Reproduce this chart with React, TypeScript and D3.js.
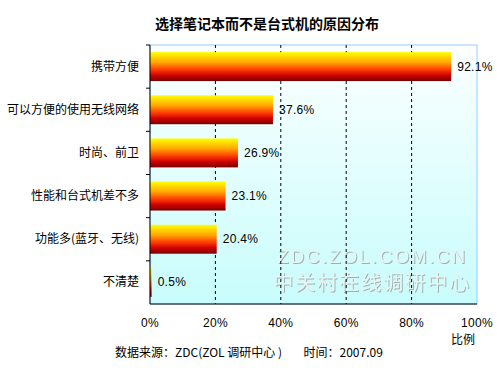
import * as d3 from 'd3';

// reasons for choosing a notebook over a desktop (share, %)
const categories = [
  '携带方便',
  '可以方便的使用无线网络',
  '时尚、前卫',
  '性能和台式机差不多',
  '功能多(蓝牙、无线)',
  '不清楚',
];
const shares = [92.1, 37.6, 26.9, 23.1, 20.4, 0.5];
const xTicks = [0, 20, 40, 60, 80, 100];

const cjk = "'Noto Sans CJK SC','DejaVu Sans',sans-serif";
const latin = "'Liberation Sans',Arial,sans-serif";

const W = 500, H = 375;
const margin = { top: 45, right: 23, bottom: 71, left: 150 };
const iW = W - margin.left - margin.right;
const iH = H - margin.top - margin.bottom;

export default function App() {
  const x = d3.scaleLinear().domain([0, 100]).range([0, iW]);
  const y = d3.scaleBand<string>().domain(categories).range([0, iH]).paddingInner(0.33).paddingOuter(0.165);
  const bounds = d3.scaleBand<string>().domain(categories).range([0, iH]);
  const wmX = x(68);

  return (
    <svg width={W} height={H} style={{ position: 'absolute', left: 0, top: 0, background: '#fff' }}>
      <defs>
        <linearGradient id="bg" x1="0" y1="0" x2="0" y2="1">
          <stop offset="0%" stopColor="#fcffff" />
          <stop offset="100%" stopColor="#c8fcfc" />
        </linearGradient>
        <linearGradient id="bar" x1="0" y1="0" x2="0" y2="1">
          <stop offset="0%" stopColor="#ffff00" />
          <stop offset="35%" stopColor="#ffa800" />
          <stop offset="60%" stopColor="#ff4000" />
          <stop offset="80%" stopColor="#d00000" />
          <stop offset="100%" stopColor="#780000" />
        </linearGradient>
        <filter id="emboss" x="-5%" y="-20%" width="110%" height="140%">
          <feDropShadow dx="1" dy="1" stdDeviation="0" floodColor="#a0b0b0" />
        </filter>
      </defs>

      <text x={267} y={29} textAnchor="middle" fontFamily={cjk} fontWeight="bold" fontSize={14}>
        选择笔记本而不是台式机的原因分布
      </text>

      <g transform={`translate(${margin.left},${margin.top})`}>
        <rect width={iW} height={iH} fill="url(#bg)" stroke="#99ccff" strokeWidth={1} />

        {/* watermark */}
        <g textAnchor="middle" fill="#e6f6f6" filter="url(#emboss)">
          <text x={wmX} y={218} fontSize={18.5} fontFamily={latin} letterSpacing={2.2}>ZDC.ZOL.COM.CN</text>
          <text x={wmX} y={245} fontSize={20} fontFamily={cjk} letterSpacing={2}>中关村在线调研中心</text>
        </g>

        {xTicks.slice(1, -1).map(t => (
          <line key={t} x1={x(t)} x2={x(t)} y1={0} y2={iH} stroke="#000" strokeDasharray="3,3" />
        ))}

        {categories.map((c, i) => (
          <g key={c}>
            <rect x={0} y={y(c)} width={x(shares[i])} height={y.bandwidth()} fill="url(#bar)" />
            <text x={x(shares[i]) + 6} y={(y(c) ?? 0) + y.bandwidth() / 2 + 4} fontFamily={latin} fontSize={12} letterSpacing={0.3}>
              {shares[i]}%
            </text>
            <text x={-11} y={(y(c) ?? 0) + y.bandwidth() / 2 + 4} textAnchor="end" fontFamily={cjk} fontSize={12}>
              {c}
            </text>
          </g>
        ))}

        {categories.map(c => (
          <line key={'t' + c} x1={-4} x2={0} y1={bounds(c)} y2={bounds(c)} stroke="#000" />
        ))}
        <line x1={0} x2={0} y1={0} y2={iH} stroke="#000" />
        <line x1={0} x2={iW} y1={iH} y2={iH} stroke="#000" />

        {xTicks.map(t => (
          <text key={t} x={x(t)} y={iH + 23} textAnchor="middle" fontFamily={latin} fontSize={12} letterSpacing={0.3}>
            {t}%
          </text>
        ))}
        <text x={iW - 14} y={iH + 40} textAnchor="middle" fontFamily={cjk} fontSize={12}>比例</text>
      </g>

      <text x={115} y={357} fontFamily={cjk} fontSize={12} xmlSpace="preserve">
        数据来源：ZDC(ZOL 调研中心 )        时间：2007.09
      </text>
    </svg>
  );
}
